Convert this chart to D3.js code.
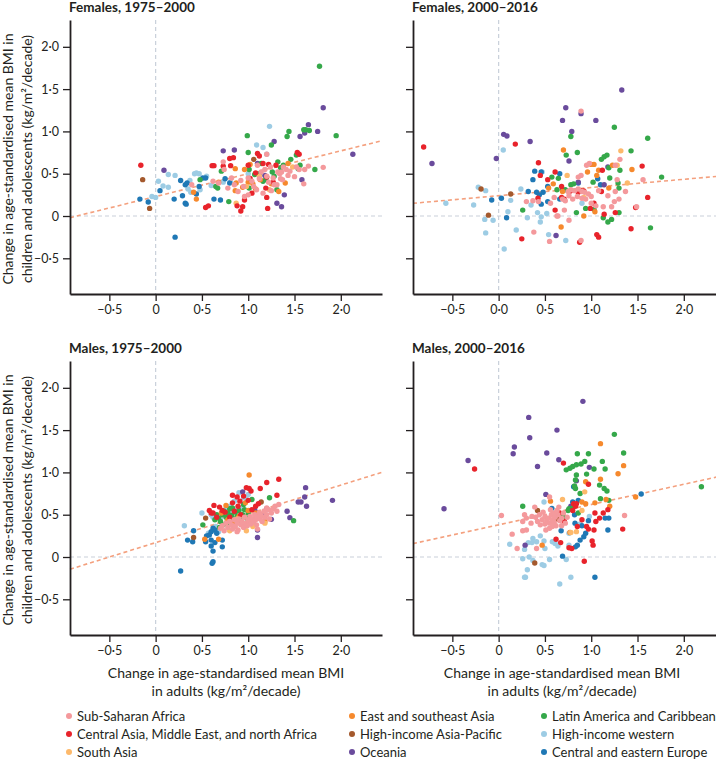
<!DOCTYPE html>
<html><head><meta charset="utf-8">
<script src="https://cdn.jsdelivr.net/npm/d3@7"></script>
<style>
body{margin:0;background:#fff;}
svg text{font-family:Lato,"Open Sans",sans-serif;fill:#231f20;}
</style></head><body>
<svg id="chart" width="716" height="762"></svg>
<script>
const regions = ["Sub-Saharan Africa","Central Asia, Middle East, and north Africa","South Asia",
  "East and southeast Asia","High-income Asia-Pacific","Oceania",
  "Latin America and Caribbean","High-income western","Central and eastern Europe"];
const regionColors = ["#f4999c","#e8232b","#fdb96b","#f6892d","#a4592d","#6a4b9c","#35a84a","#9dcce4","#1f78b5"];
const drawOrder = [7,8,4,5,6,3,2,1,0];
const panelTitles = ["Females, 1975–2000","Females, 2000–2016","Males, 1975–2000","Males, 2000–2016"];
const xTicks = [-0.5,0,0.5,1,1.5,2];
const yTicks = [-0.5,0,0.5,1,1.5,2];
const yTickLabels = ["−0·5","0","0·5","1·0","1·5","2·0"];
const xTickLabels = [
  ["−0·5","0","0·5","1·0","1·5","2·0"],
  ["−0·5","0·0","0·5","1·0","1·5","2·0"],
  ["−0·5","0","0·5","1·0","1·5","2·0"],
  ["−0·5","0","0·5","1·0","1·5","2·0"]];
const trendIntercepts = [0.23,0.24,0.17,0.38];
const trendSlopes = [0.27,0.097,0.34,0.24];
const yTitle = ["Change in age-standardised mean BMI in","children and adolescents (kg/m²/decade)"];
const xTitle = ["Change in age-standardised mean BMI","in adults (kg/m²/decade)"];

// each panel: one list of [adult change, child change] per region (region order as above)
const femalesEarly = [
 [[0.39,0.37],[0.62,0.41],[0.74,0.55],[0.73,0.64],[0.78,0.33],[0.85,0.37],[0.89,0.29],[0.92,0.42],[0.96,0.23],[1.0,0.25],[1.0,0.45],[1.04,0.41],[1.06,0.35],[1.09,0.31],[1.12,0.44],[1.14,0.52],[1.16,0.27],[1.18,0.55],[1.2,0.73],[1.2,0.47],[1.22,0.40],[1.24,0.58],[1.27,0.45],[1.28,0.37],[1.31,0.37],[1.32,0.52],[1.34,0.50],[1.35,0.44],[1.36,0.52],[1.37,0.43],[1.38,0.58],[1.41,0.55],[1.43,0.48],[1.45,0.53],[1.5,0.465],[1.52,0.58],[1.55,0.55],[1.6,0.38],[1.61,0.55],[1.65,0.59],[1.81,0.575],[0.95,0.35],[0.82,0.45],[1.1,0.6],[0.68,0.39],[1.25,0.3]],
 [[-0.16,0.60],[0.54,0.10],[0.57,0.12],[0.61,0.595],[0.63,0.595],[0.80,0.68],[0.84,0.69],[0.81,0.595],[0.88,0.12],[0.92,0.06],[0.94,0.11],[0.96,0.19],[1.04,0.27],[1.0,0.6],[1.02,0.445],[1.08,0.51],[1.1,0.74],[1.12,0.71],[1.16,0.62],[1.2,0.46],[1.19,0.33],[1.21,0.09],[1.2,0.22],[1.22,0.61],[1.27,0.40],[1.3,0.60],[1.53,0.75],[1.55,0.73],[0.73,0.59]],
 [[0.87,0.15],[1.23,0.31],[1.48,0.58],[0.98,0.35],[1.12,0.47]],
 [[0.41,0.28],[0.44,0.2],[0.68,0.4],[0.86,0.56],[0.87,0.39],[0.86,0.3],[0.94,0.34],[1.0,0.4],[1.02,0.61],[1.05,0.38],[1.13,0.43],[1.25,0.38],[1.33,0.29],[1.4,0.39],[1.43,0.62],[0.96,0.55],[1.08,0.32]],
 [[-0.14,0.43],[-0.065,0.09],[1.06,0.67]],
 [[0.09,0.54],[0.73,0.77],[0.85,0.78],[1.1,0.62],[1.18,0.48],[1.28,0.88],[1.31,0.15],[1.36,0.11],[1.39,0.25],[1.56,0.94],[1.58,0.43],[1.61,0.98],[1.65,1.08],[1.75,1.0],[1.81,1.28],[2.13,0.73]],
 [[0.48,0.43],[0.65,0.35],[0.67,0.33],[0.71,0.53],[0.79,0.17],[0.99,0.95],[1.0,0.75],[1.01,0.55],[1.01,0.33],[1.14,0.62],[1.19,0.43],[1.16,0.41],[1.25,0.84],[1.26,0.52],[1.28,0.47],[1.32,0.64],[1.31,0.31],[1.35,0.57],[1.38,0.6],[1.42,0.94],[1.44,1.0],[1.46,0.67],[1.52,0.72],[1.54,0.56],[1.56,0.6],[1.6,1.02],[1.62,1.02],[1.66,1.01],[1.72,0.55],[1.77,1.77],[1.95,0.95],[1.12,0.5],[1.07,0.49]],
 [[-0.04,0.23],[0.0,0.22],[0.03,0.41],[0.08,0.355],[0.137,0.49],[0.137,0.34],[0.21,0.48],[0.35,0.32],[0.37,0.42],[0.38,0.28],[0.42,0.5],[0.44,0.51],[0.47,0.5],[0.48,0.31],[0.55,0.47],[0.6,0.36],[0.73,0.4],[1.09,0.84],[1.16,0.81],[1.2,0.73],[1.23,1.06],[1.0,0.5],[0.81,0.4]],
 [[-0.17,0.20],[-0.08,0.165],[0.047,0.30],[0.2,0.2],[0.21,-0.25],[0.27,0.42],[0.29,0.24],[0.32,0.37],[0.32,0.15],[0.34,0.39],[0.44,0.26],[0.47,0.35],[0.51,0.45],[0.63,0.2],[0.7,0.19],[0.75,0.44],[0.8,0.39],[0.33,0.14],[0.54,0.45]]
];
const femalesLate = [
 [[0.89,1.24],[1.31,0.67],[1.56,0.43],[0.89,-0.29],[0.55,-0.30],[0.38,-0.19],[0.30,0.17],[0.43,0.17],[0.6,0.22],[0.63,0.0],[0.69,0.20],[0.71,0.07],[0.76,-0.05],[0.95,0.60],[0.98,0.62],[1.26,0.60],[0.86,0.46],[0.89,0.48],[1.28,0.43],[0.75,0.29],[0.78,0.31],[0.82,0.30],[0.86,0.32],[0.9,0.29],[0.93,0.28],[0.97,0.26],[1.0,0.23],[1.0,0.15],[0.94,0.2],[0.9,0.21],[0.85,0.23],[0.8,0.2],[0.76,0.24],[1.26,0.29],[1.37,0.29],[0.37,0.18],[0.64,0.0],[1.13,0.11],[1.05,0.12],[1.22,0.11],[1.25,0.17],[1.49,0.11],[1.3,0.2],[1.18,0.24],[0.56,0.15],[1.08,0.3],[0.72,0.18]],
 [[-0.81,0.815],[0.18,0.85],[0.43,0.63],[0.45,0.48],[0.53,0.43],[0.61,0.52],[0.425,0.21],[0.68,0.35],[0.71,0.20],[0.61,0.07],[0.775,0.295],[0.89,0.295],[0.92,0.295],[1.11,0.29],[1.12,0.54],[1.55,0.59],[1.61,0.22],[1.48,0.10],[1.43,-0.15],[1.06,-0.22],[1.08,-0.25],[0.875,-0.31],[0.25,-0.27],[1.03,0.15],[0.99,0.09],[1.14,0.02],[1.26,0.04],[0.68,0.22],[0.86,0.28]],
 [[1.32,0.77],[1.39,0.39],[1.28,0.60],[0.74,0.48],[0.92,0.22]],
 [[0.70,0.78],[1.0,0.61],[1.03,0.61],[1.23,0.60],[1.44,0.55],[1.08,0.54],[0.59,0.38],[0.54,0.33],[0.69,0.29],[1.19,0.33],[1.04,0.05],[0.92,0.0],[0.675,-0.13],[1.06,0.48],[0.96,0.52]],
 [[-0.19,0.32],[-0.11,0.01],[0.13,0.26]],
 [[1.33,1.49],[0.725,1.28],[0.89,1.21],[0.69,1.13],[1.05,1.13],[0.79,1.0],[0.054,0.965],[0.09,0.945],[-0.72,0.62],[0.34,0.88],[-0.025,0.68],[0.76,0.65],[1.18,0.58],[0.62,-0.23],[1.14,0.37],[0.86,0.4]],
 [[1.25,1.05],[0.78,0.94],[1.61,0.92],[0.73,0.72],[0.85,0.75],[1.11,0.67],[1.14,0.70],[1.17,0.72],[1.43,0.77],[1.76,0.46],[1.64,-0.14],[1.19,0.57],[1.31,0.54],[0.575,0.46],[0.645,0.445],[0.63,0.31],[1.2,0.45],[1.29,0.39],[0.78,0.37],[0.81,0.38],[0.26,0.07],[0.94,0.09],[1.03,0.08],[1.13,-0.02],[1.18,-0.07],[1.22,-0.04],[1.30,0.04],[1.02,0.4],[1.3,0.33],[0.72,0.31],[0.84,0.04]],
 [[0.05,0.78],[-0.57,0.15],[-0.27,0.13],[-0.22,0.34],[-0.14,0.30],[-0.15,-0.04],[-0.06,-0.05],[-0.14,-0.2],[0.06,-0.39],[0.19,-0.165],[0.13,0.185],[0.1,0.05],[0.24,0.32],[0.35,0.13],[0.31,-0.02],[0.42,0.04],[0.46,-0.01],[0.45,-0.07],[0.52,0.03],[0.54,-0.22],[0.725,-0.29],[0.9,0.15],[0.47,0.52]],
 [[-0.075,0.19],[0.03,0.21],[0.086,-0.02],[0.32,0.29],[0.37,0.43],[0.39,0.53],[0.46,0.52],[0.41,0.28],[0.44,0.25],[0.48,0.28],[0.46,0.14],[0.53,0.35],[0.53,0.17],[0.66,0.50],[0.66,0.20],[0.86,0.39],[1.1,0.37],[1.07,0.44],[0.69,0.31]]
];
const malesEarly = [
 [[0.70,0.34],[0.72,0.37],[0.74,0.31],[0.76,0.40],[0.78,0.35],[0.80,0.42],[0.82,0.38],[0.83,0.33],[0.85,0.44],[0.86,0.36],[0.88,0.40],[0.89,0.32],[0.90,0.45],[0.92,0.38],[0.93,0.42],[0.95,0.35],[0.96,0.47],[0.97,0.40],[0.99,0.37],[1.0,0.44],[1.01,0.42],[1.02,0.48],[1.03,0.39],[1.05,0.45],[1.06,0.42],[1.07,0.50],[1.08,0.44],[1.09,0.38],[1.1,0.47],[1.12,0.52],[1.13,0.45],[1.14,0.49],[1.15,0.42],[1.17,0.54],[1.18,0.47],[1.2,0.50],[1.22,0.56],[1.23,0.45],[1.25,0.52],[1.27,0.57],[1.29,0.60],[1.31,0.54],[1.33,0.62],[1.2,0.58],[0.88,0.3],[1.1,0.33]],
 [[0.58,0.55],[0.60,0.52],[0.62,0.52],[0.63,0.61],[0.69,0.59],[0.72,0.55],[0.75,0.53],[0.80,0.47],[0.83,0.73],[0.83,0.64],[0.88,0.71],[0.89,0.6],[0.91,0.66],[0.98,0.82],[1.0,0.67],[1.01,0.81],[1.03,0.78],[1.04,0.56],[1.08,0.6],[1.11,0.63],[1.13,0.81],[1.2,0.88],[1.31,0.73],[1.33,0.92],[0.92,0.5],[0.95,0.72],[0.66,0.47],[0.85,0.54]],
 [[0.80,0.31],[0.98,0.31],[1.18,0.40],[0.88,0.45],[1.05,0.36]],
 [[1.01,0.97],[0.76,0.61],[0.71,0.52],[0.53,0.21],[0.68,0.21],[0.85,0.42],[0.97,0.64],[1.12,0.46],[1.08,0.52],[0.9,0.48],[0.78,0.44],[1.18,0.42],[1.0,0.55],[0.94,0.4]],
 [[0.41,0.23],[0.54,0.46],[1.14,0.65]],
 [[0.94,0.77],[1.62,0.82],[1.61,0.71],[1.54,0.65],[1.57,0.65],[1.63,0.60],[1.91,0.67],[1.42,0.54],[1.45,0.465],[1.25,0.445],[1.1,0.23],[1.1,0.32],[1.07,0.56],[1.1,0.48],[1.2,0.57],[1.15,0.5]],
 [[0.51,0.38],[0.64,0.44],[0.66,0.5],[0.68,0.46],[0.70,0.42],[0.72,0.5],[0.74,0.54],[0.76,0.47],[0.78,0.52],[0.80,0.57],[0.82,0.49],[0.84,0.45],[0.86,0.53],[0.88,0.48],[0.90,0.55],[0.92,0.43],[0.94,0.5],[0.96,0.56],[1.04,0.68],[1.23,0.70],[1.49,0.43],[0.98,0.46],[0.73,0.38],[0.86,0.41],[0.95,0.62],[0.79,0.4],[0.69,0.35],[1.0,0.52],[0.83,0.58]],
 [[0.31,0.37],[0.5,0.52],[0.68,0.30],[0.9,0.76],[1.0,0.74],[0.98,0.68],[0.88,0.55],[0.85,0.66],[0.75,0.56],[0.8,0.6],[0.92,0.58],[0.7,0.45],[0.6,0.5],[0.62,0.47],[0.95,0.7],[0.82,0.53],[0.73,0.55],[0.65,0.36],[0.57,0.28]],
 [[0.27,-0.165],[0.345,0.2],[0.40,0.18],[0.41,0.31],[0.54,0.18],[0.6,0.2],[0.6,0.13],[0.62,0.07],[0.61,-0.075],[0.62,-0.055],[0.72,0.2],[0.72,0.12],[0.6,0.3],[0.62,0.34],[0.64,0.32],[0.58,0.26],[0.66,0.28],[0.55,0.25],[0.7,0.35],[0.64,0.17]]
];
const malesLate = [
 [[0.03,0.49],[0.146,0.27],[0.2,0.10],[0.26,0.31],[0.28,0.50],[0.30,0.46],[0.26,0.42],[0.30,0.32],[0.39,0.59],[0.41,0.10],[0.36,0.48],[0.40,0.47],[0.44,0.50],[0.47,0.44],[0.5,0.48],[0.52,0.43],[0.54,0.46],[0.55,0.40],[0.57,0.50],[0.58,0.44],[0.6,0.41],[0.61,0.47],[0.62,0.37],[0.64,0.50],[0.66,0.43],[0.68,0.46],[0.51,0.32],[0.55,0.34],[0.55,0.71],[0.65,0.59],[0.7,0.52],[1.36,0.49],[0.45,0.38],[0.48,0.53],[0.42,0.42],[0.6,0.52],[0.72,0.4],[0.35,0.4],[0.58,0.36],[0.63,0.55],[0.5,0.39],[0.56,0.56],[0.74,0.47],[0.68,0.37]],
 [[-0.26,1.04],[0.7,1.11],[0.97,0.86],[0.81,0.63],[0.83,0.6],[0.84,0.63],[0.66,0.52],[1.04,0.52],[1.13,0.52],[1.18,0.56],[1.09,0.46],[0.85,0.36],[1.03,0.32],[0.97,0.33],[1.01,0.19],[1.02,0.14],[1.34,0.33],[0.76,0.11],[0.79,0.10],[0.62,0.21],[0.67,0.17],[0.925,-0.05],[0.8,0.55],[0.71,0.42],[0.9,0.44],[1.05,0.42],[0.95,0.36]],
 [[0.93,0.77],[0.69,0.68],[0.78,0.29],[0.84,0.3],[0.9,0.55]],
 [[1.10,1.34],[1.35,1.08],[1.29,0.985],[0.94,0.89],[1.1,0.92],[1.48,0.71],[0.9,0.65],[1.16,0.68],[1.04,0.64],[0.94,0.63],[0.56,0.66],[0.77,0.29],[0.47,0.14],[1.2,0.6]],
 [[0.42,0.55],[0.64,0.445],[0.39,-0.07]],
 [[0.91,1.84],[0.325,1.65],[0.63,1.50],[0.336,1.41],[0.17,1.30],[0.157,1.22],[0.52,1.23],[-0.33,1.14],[0.42,1.07],[0.65,1.15],[0.98,1.06],[-0.59,0.57],[0.51,0.74],[0.286,0.14],[0.84,0.9],[0.78,0.6]],
 [[1.25,1.45],[1.35,1.23],[0.85,1.22],[0.97,1.22],[1.12,1.13],[1.15,1.04],[1.03,1.04],[0.73,1.03],[0.77,1.05],[0.8,1.07],[0.84,1.09],[0.89,1.1],[0.93,1.13],[0.84,0.97],[0.83,0.91],[0.82,0.84],[0.83,0.81],[1.09,0.85],[1.14,0.81],[1.17,0.78],[1.1,0.69],[1.19,0.67],[0.76,0.57],[0.86,0.52],[0.26,0.60],[2.19,0.83],[0.75,0.55],[0.8,0.58],[0.7,0.48],[0.88,0.75],[0.95,0.98]],
 [[0.12,0.15],[0.28,0.09],[0.37,0.22],[0.32,0.17],[0.36,0.17],[0.41,0.18],[0.49,0.19],[0.5,0.1],[0.58,0.18],[0.61,0.16],[0.64,0.13],[0.76,0.14],[0.98,0.48],[0.88,0.39],[0.76,0.28],[0.73,-0.03],[0.26,-0.02],[0.33,0.0],[0.37,-0.04],[0.55,-0.03],[0.47,-0.09],[0.49,-0.1],[0.31,-0.15],[0.29,-0.24],[0.78,-0.24],[0.66,-0.32],[0.28,-0.24],[0.49,0.65],[0.45,0.25]],
 [[0.81,0.83],[1.54,0.745],[0.575,0.575],[1.15,0.46],[1.19,0.46],[0.675,0.31],[0.825,0.40],[0.9,0.37],[0.97,0.43],[0.94,0.28],[0.92,0.24],[0.88,0.2],[0.85,0.14],[1.18,0.32],[0.83,0.12],[0.69,0.01],[1.04,-0.24],[0.82,0.5],[0.8,0.65],[0.86,0.67]]
];
const panelData = [femalesEarly, femalesLate, malesEarly, malesLate];

const svg = d3.select("#chart");
const xDomain = [-0.925, 2.445], yDomain = [-0.922, 2.317];
const panels = [
  {left:70, top:20, bottom:294},
  {left:413, top:20, bottom:294},
  {left:70, top:361, bottom:635},
  {left:413, top:361, bottom:635}];
const panelW = 312;
const ink = "#231f20";

panels.forEach((p, i) => {
  const x = d3.scaleLinear().domain(xDomain).range([p.left, p.left + panelW]);
  const y = d3.scaleLinear().domain(yDomain).range([p.bottom, p.top]);
  const g = svg.append("g");
  g.append("line").attr("x1", x(0)).attr("x2", x(0)).attr("y1", y(yDomain[1])).attr("y2", y(yDomain[0]))
    .attr("stroke", "#c9d0da").attr("stroke-width", 1.2).attr("stroke-dasharray", "4,3");
  g.append("line").attr("x1", x(xDomain[0])).attr("x2", x(xDomain[1])).attr("y1", y(0)).attr("y2", y(0))
    .attr("stroke", "#c9d0da").attr("stroke-width", 1.2).attr("stroke-dasharray", "4,3");
  const tl = xDomain.map(v => [v, trendIntercepts[i] + trendSlopes[i] * v]);
  g.append("path").attr("d", d3.line().x(d => x(d[0])).y(d => y(d[1]))(tl))
    .attr("fill", "none").attr("stroke", "#f4a07e").attr("stroke-width", 1.6).attr("stroke-dasharray", "4,3");
  const showY = (i % 2 === 0);
  const ya = g.append("g").attr("transform", `translate(${p.left},0)`)
    .call(d3.axisLeft(y).tickValues(yTicks).tickSize(7).tickSizeOuter(0).tickPadding(4)
      .tickFormat((d, k) => showY ? yTickLabels[k] : ""));
  const xa = g.append("g").attr("transform", `translate(0,${p.bottom})`)
    .call(d3.axisBottom(x).tickValues(xTicks).tickSize(7).tickSizeOuter(0).tickPadding(4)
      .tickFormat((d, k) => xTickLabels[i][k]));
  [ya, xa].forEach(a => {
    a.select(".domain").attr("stroke", ink).attr("stroke-width", 1.8);
    a.selectAll(".tick line").attr("stroke", ink).attr("stroke-width", 1.3);
    a.selectAll(".tick text").attr("font-size", 12.5).attr("fill", ink).style("font-family", "Lato, sans-serif");
  });
  drawOrder.forEach(r => {
    g.append("g").selectAll("circle").data(panelData[i][r]).join("circle")
      .attr("cx", d => x(d[0])).attr("cy", d => y(d[1])).attr("r", 2.7)
      .attr("fill", regionColors[r]);
  });
  g.append("text").attr("x", p.left - 1).attr("y", p.top - 8).attr("font-size", 13.5)
    .attr("font-weight", "bold").text(panelTitles[i]);
  if (showY) {
    const cy = (p.top + p.bottom) / 2 + 2;
    yTitle.forEach((t, k) => {
      g.append("text").attr("transform", `translate(${13 + k * 19},${cy}) rotate(-90)`)
        .attr("text-anchor", "middle").attr("font-size", 14).text(t);
    });
  }
  if (i >= 2) {
    const cx = i === 2 ? 226 : 562;
    xTitle.forEach((t, k) => {
      g.append("text").attr("x", cx).attr("y", 678 + k * 18).attr("text-anchor", "middle")
        .attr("font-size", 14).text(t);
    });
  }
});

const legendCols = [69, 352, 544];
const legend = svg.append("g");
regions.forEach((name, k) => {
  const col = Math.floor(k / 3), row = k % 3;
  const lx = legendCols[col], ly = 716 + row * 18;
  legend.append("circle").attr("cx", lx).attr("cy", ly).attr("r", 3).attr("fill", regionColors[k]);
  legend.append("text").attr("x", lx + 8).attr("y", ly + 4.5).attr("font-size", 13).text(name);
});
</script>
</body></html>
